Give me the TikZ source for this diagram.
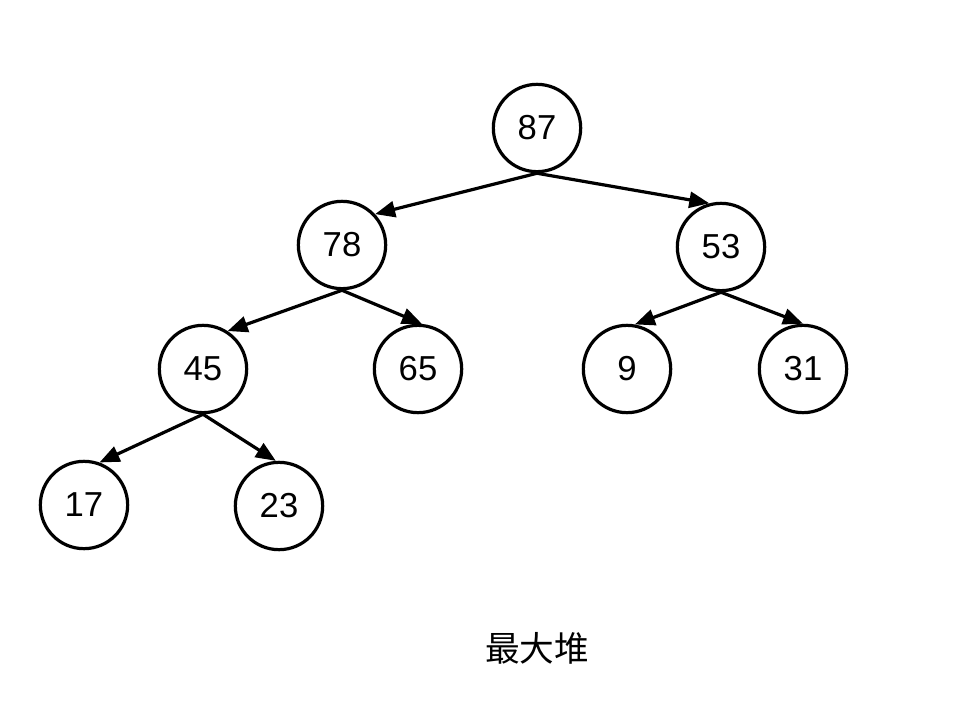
\documentclass[tikz,border=0pt]{standalone}
\usepackage{fontspec}
\setmainfont{Liberation Sans}
\newfontfamily\cjkfont{Noto Sans CJK SC}
\usetikzlibrary{arrows.meta}
\begin{document}
\begin{tikzpicture}[x=0.75pt,y=-0.75pt,
  heapnode/.style={circle,draw,line width=2.4pt,minimum size=65.5pt,inner sep=0pt,
    font=\fontsize{26}{30}\selectfont},
  link/.style={line width=2.4pt,-{Triangle[length=15pt,width=12pt]}}]
\useasboundingbox (0,0) rectangle (962,720);

% heap nodes
\node[heapnode] (n87) at (537,128) {87};
\node[heapnode] (n78) at (342,245) {78};
\node[heapnode] (n53) at (721,247) {53};
\node[heapnode] (n45) at (203,369) {45};
\node[heapnode] (n65) at (418,369) {65};
\node[heapnode] (n9)  at (627,369) {9};
\node[heapnode] (n31) at (803,369) {31};
\node[heapnode] (n17) at (84,505) {17};
\node[heapnode] (n23) at (279,506) {23};

% parent to child links
\draw[link] (n87.south) -- (n78.43);
\draw[link] (n87.south) -- (n53.105);
\draw[link] (n78.south) -- (n45.57);
\draw[link] (n78.south) -- (n65.85);
\draw[link] (n53.south) -- (n9.80);
\draw[link] (n53.south) -- (n31.90);
\draw[link] (n45.south) -- (n17.70);
\draw[link] (n45.south) -- (n23.94);

% caption
\node[font=\cjkfont\fontsize{26}{31}\selectfont] (caption) at (537,648) {最大堆};
\end{tikzpicture}
\end{document}
